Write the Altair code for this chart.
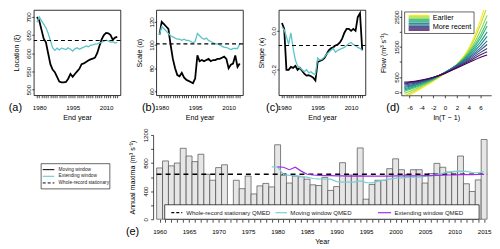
import altair as alt
import pandas as pd

FONT = "Liberation Sans"
CYAN = "#5CC3C9"
CYAN_E = "#7ACFD4"
PURPLE = "#A32CE6"
LBL = 6.3
TTL = 7.2

# ---------------- data: panels (a)-(c), end years ----------------
years_top = list(range(1979, 2016))

loc_moving = [700, 690, 665, 640, 630, 600, 570, 555, 548, 535,
              522, 520, 520, 521, 530, 543, 535, 543, 550, 557,
              570, 572, 576, 580, 583, 585, 588, 600, 620, 638,
              650, 656, 655, 650, 637, 643, 645]
loc_extend = [685, 700, 690, 680, 670, 655, 635, 615, 608, 614,
              609, 614, 612, 610, 615, 611, 606, 612, 615, 611,
              614, 617, 620, 618, 622, 623, 625, 626, 628, 630,
              633, 636, 634, 630, 632, 628, 630]
loc_whole = 635

scale_moving = [109, 120, 118, 116, 114, 100, 88, 80, 74, 73,
                76, 72, 70, 69, 68, 67, 71, 91, 86, 87,
                86, 87, 88, 86, 87, 87, 88, 88, 89, 90,
                88, 80, 83, 84, 91, 81, 84]
scale_extend = [109, 116, 114, 112, 110, 108, 107, 106, 105, 105,
                104, 105, 104, 104, 103, 102, 103, 110, 108, 106,
                105, 106, 104, 103, 102, 101, 101, 100, 99, 98,
                98, 97, 96, 97, 97, 97, 101]
scale_whole = 101

shape_moving = [0.04, 0.01, -0.2, -0.2, -0.185, -0.19, -0.18, -0.2, -0.19, -0.205,
                -0.22, -0.23, -0.228, -0.233, -0.24, -0.255, -0.16, -0.155, -0.15, -0.14,
                -0.12, -0.1, -0.09, -0.085, -0.075, -0.07, -0.06, -0.04, -0.01, 0.01,
                0.01, 0.0, 0.01, 0.0, 0.07, 0.09, -0.1]
shape_extend = [0.02, 0.005, -0.03, -0.07, -0.01, -0.09, -0.15, -0.18, -0.19, -0.2,
                -0.21, -0.2, -0.215, -0.21, -0.22, -0.225, -0.14, -0.15, -0.145, -0.135,
                -0.12, -0.11, -0.1, -0.09, -0.11, -0.1, -0.095, -0.09, -0.085, -0.075,
                -0.065, -0.06, -0.07, -0.075, -0.085, -0.09, -0.1]
shape_whole = -0.075

# ---------------- data: panel (d) growth curves ----------------
ln_t = [-6.9, -6, -4, -2, 0, 2, 4, 6, 7.1]
flow_curves = [
    [-180, -100, 120, 360, 620, 920, 1450, 2400, 3100],
    [-120, -50, 160, 380, 630, 920, 1400, 2250, 2850],
    [-40, 20, 200, 400, 640, 910, 1340, 2050, 2550],
    [20, 80, 230, 420, 650, 910, 1300, 1900, 2350],
    [60, 120, 260, 430, 650, 900, 1260, 1800, 2200],
    [110, 160, 290, 445, 655, 900, 1220, 1680, 2000],
    [150, 190, 310, 455, 655, 890, 1180, 1580, 1850],
    [190, 220, 330, 465, 650, 880, 1140, 1480, 1700],
    [230, 255, 350, 470, 640, 860, 1100, 1400, 1580],
    [270, 290, 370, 480, 635, 840, 1060, 1320, 1450],
    [300, 315, 385, 485, 630, 820, 1020, 1240, 1340],
    [330, 340, 400, 490, 620, 800, 980, 1160, 1230],
]
curve_colors = ["#FDE725", "#C2DF23", "#85D54A", "#51C56A", "#2BB07F", "#1E9B8A",
                "#25858E", "#2D708E", "#38598C", "#433E85", "#482173", "#440154"]
legend_d_labels = ["Earlier", "More recent"]

# ---------------- data: panel (e) annual maxima ----------------
years_e = list(range(1960, 2016))
amax = [730, 830, 760, 800, 1010, 900, 820, 925, 640, 555,
        735, 775, None, 555, 435, 615, 360, 475, 510, 460,
        1060, 625, 515, 615, 605, 570, 490, 480, 595, 410,
        465, 805, 630, 630, 1015, 285, 495, 555, 555, 720,
        860, 705, 635, 705, 705, 515, 650, 795, 740, 670,
        680, 900, 505, 395, 560, 1135]
years_qmed_moving = list(range(1979, 2016))
qmed_moving = [745, 745, 635, 625, 620, 610, 600, 580, 575, 572,
               570, 535, 528, 527, 528, 545, 522, 518, 540, 555,
               570, 585, 590, 595, 598, 600, 610, 620, 635, 655,
               670, 682, 684, 682, 665, 660, 680]
years_qmed_extend = list(range(1980, 2016))
qmed_extend = [745, 740, 705, 740, 685, 640, 630, 625, 622, 620,
               618, 616, 615, 615, 616, 614, 613, 613, 614, 615,
               616, 617, 618, 618, 619, 620, 622, 625, 628, 630,
               632, 634, 635, 636, 637, 638]
qmed_whole = 640
legend_e_labels = ["Whole-record stationary QMED", "Moving window QMED", "Extending window QMED"]
legend_top_labels = ["Moving window", "Extending window", "Whole-record stationary"]

MINUS_FIX = "replace(datum.label, '\u2212', '-')"


def tag(text, x, y, align):
    return alt.Chart(pd.DataFrame({"t": [text]})).mark_text(
        font=FONT, fontSize=11, align=align, baseline="middle", color="black"
    ).encode(text="t:N", x=alt.value(x), y=alt.value(y))


def y_axis(values, title, label_expr=None, fmt=None, ts=2, lp=0, tp=5.0, domain=False):
    kw = dict(values=values, title=title, labelAngle=-90, labelAlign="center",
              labelBaseline="bottom", tickSize=ts, labelPadding=lp, titlePadding=tp,
              domain=domain, grid=False, labelOverlap=False, labelFlush=False,
              labelFont=FONT, titleFont=FONT, labelFontSize=LBL, titleFontSize=TTL,
              titleFontWeight="normal")
    if label_expr:
        kw["labelExpr"] = label_expr
    if fmt:
        kw["format"] = fmt
    return alt.Axis(**kw)


def x_axis(values, title, label_expr, fmt=None, ts=2.5, lp=6.7, tp=3.3, domain=False):
    kw = dict(values=values, title=title, labelExpr=label_expr, tickSize=ts, labelPadding=lp,
              titlePadding=tp, domain=domain, grid=False, labelOverlap=False, labelFlush=False,
              labelFont=FONT, titleFont=FONT, labelFontSize=LBL, titleFontSize=TTL,
              titleFontWeight="normal")
    if fmt:
        kw["format"] = fmt
    return alt.Axis(**kw)


def top_panel(moving, extend, whole, ydomain, yax, tg, tg_x, tg_align):
    xs = alt.X("year:Q", scale=alt.Scale(domain=[1977.56, 2016.44], nice=False, zero=False),
               axis=x_axis(years_top, "End year",
                           "(datum.value == 1980 || datum.value == 1995 || datum.value == 2010) ? datum.label : ''",
                           fmt="d"))
    ys = alt.Y("value:Q", scale=alt.Scale(domain=ydomain, nice=False, zero=False), axis=yax)
    m = alt.Chart(pd.DataFrame({"year": years_top, "value": moving})).mark_line(
        color="black", strokeWidth=1.8, clip=True).encode(x=xs, y=ys)
    e = alt.Chart(pd.DataFrame({"year": years_top, "value": extend})).mark_line(
        color=CYAN, strokeWidth=1.3, clip=True).encode(x=xs, y=ys)
    d = alt.Chart(pd.DataFrame({"value": [whole]})).mark_rule(
        color="black", strokeWidth=1.1, strokeDash=[4, 3]).encode(y=ys)
    return alt.layer(m, e, d, tag(tg, tg_x, 98.7, tg_align)).properties(
        width=87.4, height=86, view=alt.ViewBackground(stroke="black", strokeWidth=0.8))


panel_a = top_panel(loc_moving, loc_extend, loc_whole, [484.4, 719.1],
                    y_axis([500, 550, 600, 650, 700], "Location (\u03be)", fmt="d"),
                    "(a)", -25.3, "left")
panel_b = top_panel(scale_moving, scale_extend, scale_whole, [56.57, 130.29],
                    y_axis([60, 80, 100, 120], "Scale (\u03b1)", fmt="d"),
                    "(b)", -1, "right")
panel_c = top_panel(shape_moving, shape_extend, shape_whole, [-0.3305, 0.1068],
                    y_axis([-0.4, -0.2, 0.0], "Shape (\u03ba)", fmt=".1f", label_expr=MINUS_FIX),
                    "(c)", 0, "right")

# ---------------- panel (d) ----------------
rows = []
for i, vals in enumerate(flow_curves):
    for x, v in zip(ln_t, vals):
        rows.append({"lnT": x, "flow": v, "curve": i})
d_df = pd.DataFrame(rows)
dx = alt.X("lnT:Q", scale=alt.Scale(domain=[-7.41, 7.79], nice=False, zero=False),
           axis=x_axis([-6, -4, -2, 0, 2, 4, 6], "ln(T \u2212 1)", MINUS_FIX, domain=True))
dy = alt.Y("flow:Q", scale=alt.Scale(domain=[-109, 2731], nice=False, zero=False),
           axis=y_axis([0, 500, 1000, 1500, 2000, 2500], "Flow (m\u00b3 s\u207b\u00b9)",
                       label_expr="(datum.value == 1000 || datum.value == 2000) ? '' : datum.label",
                       fmt="d", tp=5.5, domain=True))
dcol = alt.Color("curve:O", scale=alt.Scale(domain=list(range(len(flow_curves))), range=curve_colors), legend=None)
d_lines = alt.Chart(d_df).mark_line(strokeWidth=1.1, clip=True, interpolate="monotone").encode(
    x=dx, y=dy, color=dcol, order="lnT:Q")
d_box = alt.Chart(pd.DataFrame({"lnT": [-6.84], "x2": [4.89], "flow": [1948], "y2": [2665]})).mark_rect(
    fill="white", stroke="black", strokeWidth=0.6).encode(x=dx, x2="x2:Q", y=dy, y2="y2:Q")
leg_lines_y = [2550, 2505, 2460, 2415, 2370, 2330, 2275, 2230, 2185, 2140, 2100, 2060]
d_leg_lines = alt.Chart(pd.DataFrame({"lnT": [-6.16] * 12, "x2": [-2.64] * 12, "flow": leg_lines_y,
                                      "curve": list(range(12))})).mark_rule(strokeWidth=1.2).encode(
    x=dx, x2="x2:Q", y=dy, color=dcol)
d_leg_text = alt.Chart(pd.DataFrame({"lnT": [-2.09, -2.09], "flow": [2450, 2170], "t": legend_d_labels})).mark_text(
    font=FONT, fontSize=7.3, align="left", baseline="middle", color="black").encode(x=dx, y=dy, text="t:N")
panel_d = alt.layer(d_lines, d_box, d_leg_lines, d_leg_text, tag("(d)", -1.6, 98.7, "right")).properties(
    width=90.7, height=86)

# ---------------- panel (e) ----------------
ex = alt.X("x0:Q", scale=alt.Scale(domain=[1958.9, 2016.1], nice=False, zero=False),
           axis=x_axis(years_e, "Year", "datum.value % 5 == 0 ? datum.label : ''", fmt="d",
                       ts=3, lp=6.2, tp=2.5))
ey = alt.Y("val:Q", scale=alt.Scale(domain=[0, 1200], nice=False, zero=False),
           axis=y_axis(list(range(0, 1201, 200)), "Annual maxima (m\u00b3 s\u207b\u00b9)",
                       label_expr="datum.value % 400 == 0 ? datum.label : ''", fmt="d",
                       ts=2.5, lp=2.25, tp=6.5, domain=True))
bars_df = pd.DataFrame({"year": years_e, "val": amax}).dropna()
bars = alt.Chart(bars_df).transform_calculate(
    x0="datum.year - 0.5", x1="datum.year + 0.5", base="0").mark_rect(
    fill="#E6E6E6", stroke="#4D4D4D", strokeWidth=0.7).encode(x=ex, x2="x1:Q", y=ey, y2="base:Q")
whole_rule = alt.Chart(pd.DataFrame({"x0": [years_e[0] - 0.5], "x1": [years_e[-1] + 0.5], "val": [qmed_whole]})).mark_rule(
    color="black", strokeWidth=1.5, strokeDash=[5, 4]).encode(x=ex, x2="x1:Q", y=ey)
mov_line = alt.Chart(pd.DataFrame({"x0": years_qmed_moving, "val": qmed_moving})).mark_line(
    color=CYAN_E, strokeWidth=1.2).encode(x=ex, y=ey)
ext_line = alt.Chart(pd.DataFrame({"x0": years_qmed_extend, "val": qmed_extend})).mark_line(
    color=PURPLE, strokeWidth=1.2).encode(x=ex, y=ey)
e_box = alt.Chart(pd.DataFrame({"x0": [1960.87], "x1": [2014.15], "val": [0], "v2": [206]})).mark_rect(
    fill="white", stroke="black", strokeWidth=0.7).encode(x=ex, x2="x1:Q", y=ey, y2="v2:Q")
e_leg_dash = alt.Chart(pd.DataFrame({"x0": [1961.99], "x1": [1963.84], "val": [93]})).mark_rule(
    color="black", strokeWidth=1.3, strokeDash=[3, 2]).encode(x=ex, x2="x1:Q", y=ey)
e_leg_cyan = alt.Chart(pd.DataFrame({"x0": [1979.64], "x1": [1981.59], "val": [93]})).mark_rule(
    color=CYAN_E, strokeWidth=1.2).encode(x=ex, x2="x1:Q", y=ey)
e_leg_purple = alt.Chart(pd.DataFrame({"x0": [1997.01], "x1": [1999.24], "val": [93]})).mark_rule(
    color=PURPLE, strokeWidth=1.2).encode(x=ex, x2="x1:Q", y=ey)
e_leg_text = alt.Chart(pd.DataFrame({"x0": [1964.51, 1982.16, 1999.81], "val": [93, 93, 93],
                                     "t": legend_e_labels})).mark_text(
    font=FONT, fontSize=6.1, align="left", baseline="middle", color="#222222").encode(x=ex, y=ey, text="t:N")
panel_e = alt.layer(bars, whole_rule, mov_line, ext_line, e_box, e_leg_dash, e_leg_cyan,
                    e_leg_purple, e_leg_text, tag("(e)", -14, 97.7, "right")).properties(width=340.3, height=85)

# ---------------- legend for panels (a)-(c) ----------------
lx = alt.X("x:Q", scale=alt.Scale(domain=[33.3, 110], nice=False, zero=False), axis=None)
ly = alt.Y("y:Q", scale=alt.Scale(domain=[133.3, 218.3], nice=False, zero=False, reverse=True), axis=None)
l_box = alt.Chart(pd.DataFrame({"x": [40.7], "x2": [110.0], "y": [162.3], "y2": [187.7]})).mark_rect(
    fill="white", stroke="black", strokeWidth=0.6).encode(x=lx, x2="x2:Q", y=ly, y2="y2:Q")
l_m = alt.Chart(pd.DataFrame({"x": [42.3], "x2": [54.0], "y": [168.3]})).mark_rule(
    color="black", strokeWidth=1.0).encode(x=lx, x2="x2:Q", y=ly)
l_e = alt.Chart(pd.DataFrame({"x": [42.3], "x2": [54.0], "y": [175.0]})).mark_rule(
    color=CYAN, strokeWidth=1.0).encode(x=lx, x2="x2:Q", y=ly)
l_w = alt.Chart(pd.DataFrame({"x": [42.3], "x2": [54.0], "y": [181.7]})).mark_rule(
    color="black", strokeWidth=1.0, strokeDash=[3, 2]).encode(x=lx, x2="x2:Q", y=ly)
l_t = alt.Chart(pd.DataFrame({"x": [58.3] * 3, "y": [168.3, 175.0, 181.7], "t": legend_top_labels})).mark_text(
    font=FONT, fontSize=4.8, align="left", baseline="middle", color="#222222").encode(x=lx, y=ly, text="t:N")
legend_panel = alt.layer(l_box, l_m, l_e, l_w, l_t).properties(width=76.7, height=85)

# ---------------- layout ----------------
row1 = alt.hconcat(panel_a, panel_b, panel_c, panel_d, spacing=35.5, bounds="flush")
row2 = alt.hconcat(legend_panel, panel_e, spacing=43.3, bounds="flush")

chart = alt.vconcat(row1, row2, spacing=5).properties(
    padding={"left": 0, "top": 0, "right": 0, "bottom": 0},
    background="white",
).configure_view(stroke=None).configure_axis(
    labelFont=FONT, titleFont=FONT, labelFontSize=LBL, titleFontSize=TTL, titleFontWeight="normal",
    labelColor="black", titleColor="black", tickColor="black", domainColor="black",
    tickWidth=0.7, domainWidth=0.7
)

chart.save("out.html", embed_options={"renderer": "svg", "actions": False})
